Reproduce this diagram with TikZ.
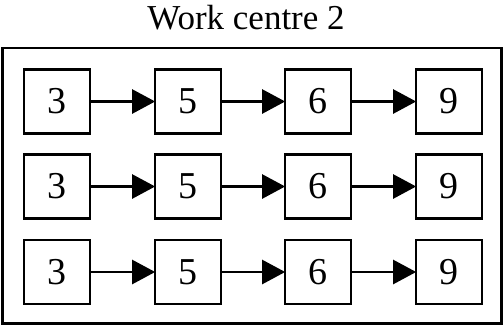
\documentclass[tikz,border=0pt]{standalone}
\usepackage{fontspec}
\setmainfont{Liberation Serif}
\usetikzlibrary{arrows.meta}
\begin{document}
\begin{tikzpicture}[x=1pt,y=-1pt,
  stage/.style={draw, line width=2.7pt, minimum width=66pt, minimum height=64pt,
    inner sep=0pt, font=\fontsize{38}{38}\selectfont},
  flow/.style={line width=2.6pt, -{Triangle[length=23pt,width=24pt]}, shorten >=-1.5pt}]
  \useasboundingbox (0,0) rectangle (504,327);
  % title
  \node (title) at (246,18) {\fontsize{35}{35}\selectfont Work centre 2};
  % enclosing frame
  \draw[line width=2.4pt] (2.5,48) rectangle (501.5,323.5);
  % three parallel lines of stages
  \foreach \r/\y in {1/101.5, 2/186.5, 3/272} {
    \node[stage] (a\r) at (57,\y) {3};
    \node[stage] (b\r) at (188,\y) {5};
    \node[stage] (c\r) at (318,\y) {6};
    \node[stage] (d\r) at (449,\y) {9};
    \draw[flow] (a\r) -- (b\r);
    \draw[flow] (b\r) -- (c\r);
    \draw[flow] (c\r) -- (d\r);
  }
\end{tikzpicture}
\end{document}
